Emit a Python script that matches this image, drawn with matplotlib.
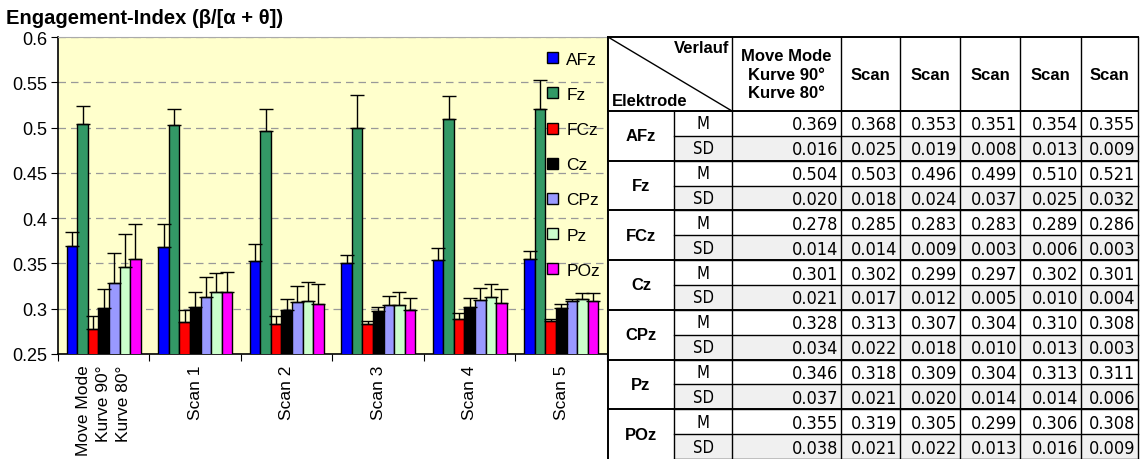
import numpy as np
import matplotlib
matplotlib.use("Agg")
import matplotlib.pyplot as plt
import matplotlib.transforms as mtransforms
from matplotlib import font_manager
from matplotlib.patches import Rectangle

# data (M / SD per electrode, per run)
groups = ["Move Mode\nKurve 90°\nKurve 80°", "Scan 1", "Scan 2", "Scan 3", "Scan 4", "Scan 5"]
table_heads = ["Move Mode\nKurve 90°\nKurve 80°", "Scan", "Scan", "Scan", "Scan", "Scan"]
electrodes = ["AFz", "Fz", "FCz", "Cz", "CPz", "Pz", "POz"]

m_afz = [0.369, 0.368, 0.353, 0.351, 0.354, 0.355]
sd_afz = [0.016, 0.025, 0.019, 0.008, 0.013, 0.009]
m_fz = [0.504, 0.503, 0.496, 0.499, 0.510, 0.521]
sd_fz = [0.020, 0.018, 0.024, 0.037, 0.025, 0.032]
m_fcz = [0.278, 0.285, 0.283, 0.283, 0.289, 0.286]
sd_fcz = [0.014, 0.014, 0.009, 0.003, 0.006, 0.003]
m_cz = [0.301, 0.302, 0.299, 0.297, 0.302, 0.301]
sd_cz = [0.021, 0.017, 0.012, 0.005, 0.010, 0.004]
m_cpz = [0.328, 0.313, 0.307, 0.304, 0.310, 0.308]
sd_cpz = [0.034, 0.022, 0.018, 0.010, 0.013, 0.003]
m_pz = [0.346, 0.318, 0.309, 0.304, 0.313, 0.311]
sd_pz = [0.037, 0.021, 0.020, 0.014, 0.014, 0.006]
m_poz = [0.355, 0.319, 0.305, 0.299, 0.306, 0.308]
sd_poz = [0.038, 0.021, 0.022, 0.013, 0.016, 0.009]

means = [m_afz, m_fz, m_fcz, m_cz, m_cpz, m_pz, m_poz]
sds = [sd_afz, sd_fz, sd_fcz, sd_cz, sd_cpz, sd_pz, sd_poz]
colors = ["#0000ff", "#339966", "#ff0000", "#000000", "#9999ff", "#ccffcc", "#ff00ff"]

plt.rcParams["font.family"] = ["Liberation Sans", "DejaVu Sans"]
names = {f.name for f in font_manager.fontManager.ttflist}
if "Liberation Sans Narrow" in names:
    num_font = dict(family="Liberation Sans Narrow")
else:
    num_font = dict(family="DejaVu Sans", fontstretch="condensed")

W, H = 1141, 460
fig = plt.figure(figsize=(W / 100, H / 100), dpi=100, facecolor="white")

# ---- bar chart ----
ax = fig.add_axes([58 / W, 1 - 355 / H, (607 - 58) / W, (355 - 38) / H])
ax.set_facecolor("#ffffcc")
x = np.arange(len(groups))
w = 0.115
for i, (name, m, sd, c) in enumerate(zip(electrodes, means, sds, colors)):
    pos = x + (i - 3) * w
    ax.bar(pos, m, width=w, color=c, edgecolor="black", linewidth=1, label=name, zorder=3)
    ax.errorbar(pos, m, yerr=[np.zeros(len(sd)), sd], fmt="none", ecolor="black",
                elinewidth=1, capsize=5, capthick=1, zorder=4)

ax.set_ylim(0.25, 0.6)
ax.set_xlim(-0.5, len(groups) - 0.5)
yt = np.arange(0.25, 0.601, 0.05)
ax.set_yticks(yt)
ax.set_yticklabels([f"{v:g}" for v in yt], fontsize=13)
ax.yaxis.grid(True, linestyle=(0, (6, 4)), color="#999999", linewidth=0.9, zorder=0)
ax.set_axisbelow(True)
ax.set_xticks(np.arange(len(groups) + 1) - 0.5)
ax.set_xticklabels([])
ax.tick_params(axis="x", which="major", length=5, direction="out")
ax.tick_params(axis="y", length=5, direction="out", pad=3)

# group labels, rotated, lines aligned at the top
trans = mtransforms.blended_transform_factory(ax.transData, ax.transAxes)
for xi, g in zip(x, groups):
    ax.text(xi, -0.032, g, transform=trans, rotation=90, fontsize=12.5, ha="center", va="top",
            multialignment="right", linespacing=1.4, clip_on=False)

ax.spines["top"].set_color("#aaaaaa")
ax.spines["right"].set_color("#aaaaaa")
ax.spines["left"].set_linewidth(1.2)
ax.spines["bottom"].set_linewidth(1.2)

leg = ax.legend(loc="upper right", bbox_to_anchor=(1.0, 0.975), frameon=False, fontsize=12.5,
                handlelength=0.6, handleheight=0.6, handletextpad=0.5, labelspacing=1.16,
                borderaxespad=0.0)

fig.text(6 / W, 1 - 18 / H, "Engagement-Index (β/[α + θ])", fontsize=14.5,
         fontweight="bold", va="center", ha="left")

# ---- table ----
tx = fig.add_axes([0, 0, 1, 1])
tx.set_xlim(0, W)
tx.set_ylim(H, 0)
tx.axis("off")
tx.patch.set_alpha(0)

c_el, c_ms, c_d0 = 608, 674, 732
col_edges = [732, 841, 900, 960, 1020, 1081, 1138]
top, head_bot = 38, 112
rh = (460 - head_bot) / 14.0

# header
tx.add_patch(Rectangle((c_el, top), 1138 - c_el, head_bot - top, facecolor="white", edgecolor="none"))
tx.plot([c_el, c_d0], [top, head_bot], color="black", lw=1)
tx.text(c_d0 - 3, top + 3, "Verlauf", fontsize=12, fontweight="bold", ha="right", va="top")
tx.text(c_el + 4, head_bot - 3, "Elektrode", fontsize=12, fontweight="bold", ha="left", va="bottom")
for j, head in enumerate(table_heads):
    cx = (col_edges[j] + col_edges[j + 1]) / 2
    tx.text(cx, (top + head_bot) / 2, head, fontsize=12, fontweight="bold",
            ha="center", va="center", linespacing=1.3)

for k, (name, m, sd) in enumerate(zip(electrodes, means, sds)):
    for r, (lab, vals) in enumerate([("M", m), ("SD", sd)]):
        y0 = head_bot + (2 * k + r) * rh
        fc = "white" if r == 0 else "#f0f0f0"
        tx.add_patch(Rectangle((c_ms, y0), 1138 - c_ms, rh, facecolor=fc, edgecolor="none"))
        tx.text((c_ms + c_d0) / 2, y0 + rh / 2, lab, fontsize=12, **num_font,
                ha="center", va="center")
        for j, v in enumerate(vals):
            tx.text(col_edges[j + 1] - 3, y0 + rh / 2 + 1, f"{v:.3f}", fontsize=13, **num_font,
                    ha="right", va="center")
        tx.plot([c_ms, 1138], [y0 + rh, y0 + rh], color="black", lw=1)
    yg = head_bot + 2 * k * rh
    tx.text((c_el + c_ms) / 2, yg + rh, name, fontsize=12, fontweight="bold", ha="center", va="center")
    tx.plot([c_el, 1138], [yg, yg], color="black", lw=1.4)

# vertical lines
tx.plot([c_el, c_el], [top, 460], color="black", lw=1.4)
tx.plot([c_ms, c_ms], [head_bot, 460], color="black", lw=1)
for e in col_edges:
    tx.plot([e, e], [top, 460], color="black", lw=1)
tx.plot([c_el, 1138], [top, top], color="black", lw=1.4)

fig.savefig("out.png", dpi=100, facecolor="white")
